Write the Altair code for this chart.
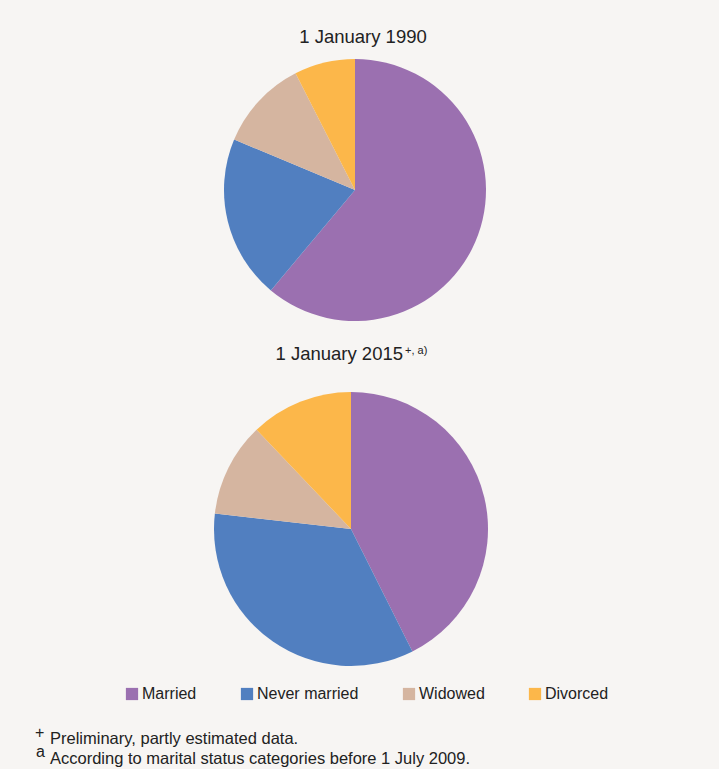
import altair as alt
import pandas as pd

categories = ["Married", "Never married", "Widowed", "Divorced"]
colors = ["#9B70B0", "#517FC0", "#D5B5A0", "#FCB74A"]
share_1990 = [61.1, 20.2, 11.2, 7.5]
share_2015 = [42.6, 34.2, 11.1, 12.1]

title_1990 = "1 January 1990"
title_2015 = "1 January 2015"
title_2015_sup = "+, a)"
note_marks = ["+", "a"]
note_texts = ["Preliminary, partly estimated data.",
              "According to marital status categories before 1 July 2009."]

FONT = "Liberation Sans"

rows = []
for i, c in enumerate(categories):
    rows.append({"year": "1990", "status": c, "share": share_1990[i], "idx": i})
    rows.append({"year": "2015", "status": c, "share": share_2015[i], "idx": i})
df = pd.DataFrame(rows)

color = alt.Color(
    "status:N",
    scale=alt.Scale(domain=categories, range=colors),
    sort=categories,
    legend=alt.Legend(
        title=None, orient="none", legendX=124, legendY=686,
        direction="horizontal", symbolType="square", symbolSize=150,
        symbolStrokeWidth=0, labelFont=FONT, labelFontSize=16,
        labelColor="#222222", labelOffset=2, columnPadding=42,
        padding=0, symbolOpacity=1,
    ),
)

base = alt.Chart(df)

pie1 = base.transform_filter(alt.datum.year == "1990").mark_arc(
    radius=131, strokeWidth=0
).encode(
    theta=alt.Theta("share:Q", stack=True),
    color=color,
    order=alt.Order("idx:Q"),
    x=alt.value(355), y=alt.value(190),
)

pie2 = base.transform_filter(alt.datum.year == "2015").mark_arc(
    radius=137, strokeWidth=0
).encode(
    theta=alt.Theta("share:Q", stack=True),
    color=alt.Color("status:N", scale=alt.Scale(domain=categories, range=colors), legend=None),
    order=alt.Order("idx:Q"),
    x=alt.value(351), y=alt.value(529),
)

def txt(text, x, y, size, align="left", color="#222222"):
    return alt.Chart(pd.DataFrame({"t": [text]})).mark_text(
        font=FONT, fontSize=size, align=align, baseline="alphabetic", color=color
    ).encode(text="t:N", x=alt.value(x), y=alt.value(y))

t1 = txt(title_1990, 363, 43, 18.5, align="center")
t2 = txt(title_2015, 403, 360, 18.5, align="right")
t2s = txt(title_2015_sup, 405, 354, 11, align="left")
n1m = txt(note_marks[0], 35, 738, 16)
n1 = txt(note_texts[0], 50, 744, 16.5)
n2m = txt(note_marks[1], 36, 757, 16)
n2 = txt(note_texts[1], 50, 764, 16.5)

chart = alt.layer(pie1, pie2, t1, t2, t2s, n1m, n1, n2m, n2).resolve_scale(
    theta="independent"
).properties(
    width=719, height=769, padding=0,
    autosize=alt.AutoSizeParams(type="none"),
    background="#F7F5F3",
).configure_view(stroke=None)

chart.save("out.html", embed_options={"renderer": "svg", "actions": False})
